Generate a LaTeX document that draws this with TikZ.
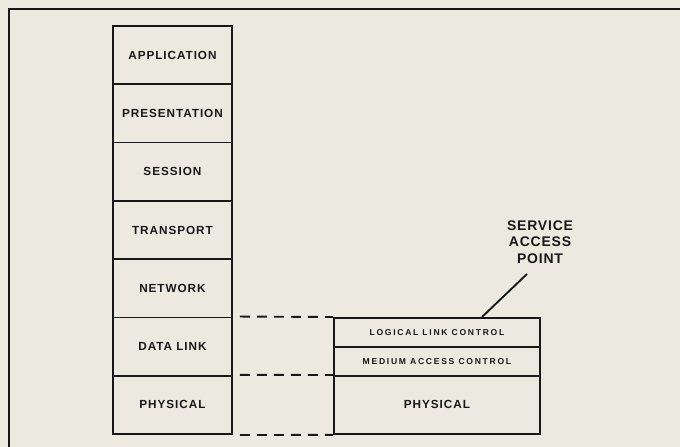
\documentclass[tikz,border=0pt]{standalone}
\usepackage{fontspec}
\setmainfont{Liberation Sans}
\newfontfamily\layerfont[LetterSpace=8]{Liberation Sans}
\newfontfamily\subfont[LetterSpace=20]{Liberation Sans}
\newfontfamily\sapfont[LetterSpace=6]{Liberation Sans}
\definecolor{paper}{RGB}{236,234,224}
\definecolor{ink}{RGB}{24,24,24}
\begin{document}
\begin{tikzpicture}[x=1bp,y=-1bp,
  layer/.style={draw=ink, line width=1.9bp, minimum width=119bp, minimum height=58.3bp,
    inner sep=0pt, anchor=north west, font=\layerfont\bfseries\fontsize{11.8}{12}\selectfont, text=ink},
  sublayer/.style={draw=ink, line width=1.9bp, minimum width=206bp, inner sep=0pt,
    anchor=north west, font=\subfont\bfseries\fontsize{8.6}{9}\selectfont, text=ink},
  link/.style={draw=ink, line width=1.9bp, dash pattern=on 10bp off 7bp, dash phase=10bp}
]
% page and frame
\fill[paper] (0,0) rectangle (680,447);
\useasboundingbox (0,0) rectangle (680,447);
\draw[ink, line width=2.4bp] (9,447) -- (9,9) -- (680,9);

% seven-layer reference model
\node[layer] (app)  at (112,25)    {APPLICATION};
\node[layer] (pres) at (112,83.3)  {PRESENTATION};
\node[layer] (ses)  at (112,141.6) {SESSION};
\node[layer] (tra)  at (112,199.9) {TRANSPORT};
\node[layer] (net)  at (112,258.2) {NETWORK};
\node[layer] (dl)   at (112,316.5) {DATA LINK};
\node[layer] (phy)  at (112,374.8) {PHYSICAL};

% LAN sublayers
\node[sublayer, minimum height=29bp] (llc) at (333,317) {LOGICAL LINK CONTROL};
\node[sublayer, minimum height=29bp] (mac) at (333,346) {MEDIUM ACCESS CONTROL};
\node[sublayer, minimum height=58bp, font=\layerfont\bfseries\fontsize{11.8}{12}\selectfont] (lphy) at (333,375) {PHYSICAL};

% correspondence between the two stacks
\draw[link] (dl.north east) -- (llc.north west);
\draw[link] (phy.north east) -- (lphy.north west);
\draw[link] (phy.south east) -- (lphy.south west);

% service access point
\node[font=\sapfont\bfseries\fontsize{14}{16.5}\selectfont, text=ink, align=center, inner sep=0pt]
  (sap) at (540,242) {SERVICE\\ACCESS\\POINT};
\coordinate (sapend) at (482,317);
\draw[ink, line width=1.9bp] (527,274) -- (sapend);
\end{tikzpicture}
\end{document}
